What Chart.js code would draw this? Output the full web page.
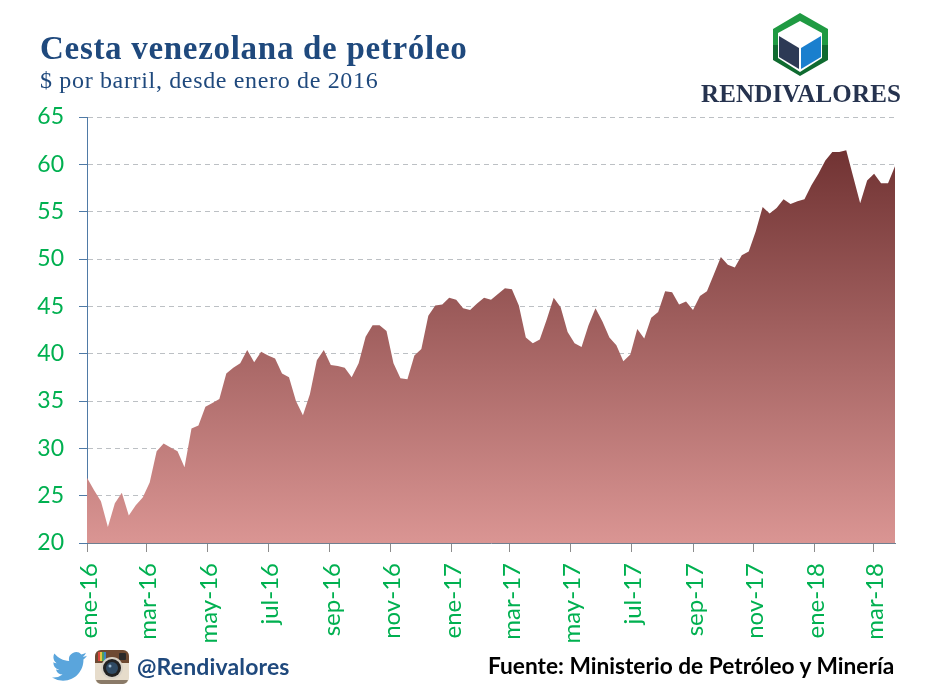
<!DOCTYPE html>
<html lang="es">
<head>
<meta charset="utf-8">
<title>Cesta venezolana de petróleo</title>
<script src="https://cdn.jsdelivr.net/npm/chart.js@4"></script>
<style>
  html, body { margin: 0; padding: 0; background: #fff; }
  #pagina { position: relative; width: 941px; height: 690px; overflow: hidden; }
  #grafico { position: absolute; left: 0; top: 0; }
  .texto { position: absolute; white-space: nowrap; line-height: 1; }
  #titulo { left: 40px; top: 30px; font: bold 33px "Liberation Serif", serif; letter-spacing: 0.7px; color: #1f497d; }
  #subtitulo { left: 40px; top: 67px; font: 24px "Liberation Serif", serif; letter-spacing: 0.66px; color: #1f497d; }
  #marca { left: 701px; top: 80px; font: bold 25px "Liberation Serif", serif; letter-spacing: 0.15px; color: #26334f; }
  #usuario { left: 137px; top: 652px; font: bold 23px "Lato", sans-serif; letter-spacing: 0.15px; color: #1f497d; }
  #fuente { left: 488px; top: 652px; font: bold 22.7px "Lato", sans-serif; color: #000; }
  svg { position: absolute; }
</style>
</head>
<body>
<div id="pagina">
  <canvas id="grafico" width="941" height="690"></canvas>
  <div class="texto" id="titulo">Cesta venezolana de petróleo</div>
  <div class="texto" id="subtitulo">$ por barril, desde enero de 2016</div>
  <div class="texto" id="marca">RENDIVALORES</div>
  <div class="texto" id="usuario">@Rendivalores</div>
  <div class="texto" id="fuente">Fuente: Ministerio de Petróleo y Minería</div>

  <!-- logo -->
  <svg style="left:770px;top:10px" width="62" height="70" viewBox="770 10 62 70">
    <polygon points="800,13 828,29 828,45 773,45 773,29" fill="#1f9a42"/>
    <polygon points="773,45 828,45 828,60 800,76 773,60" fill="#0f6b30"/>
    <polygon points="800,21 822,33 822,58 800,72 778,58 778,33" fill="#fff"/>
    <polygon points="779,36 799,48 799,69 779,57" fill="#2d3a55"/>
    <polygon points="801,48 821,36 821,57 801,69" fill="#1a7fce"/>
  </svg>

  <!-- twitter -->
  <svg style="left:52px;top:651px" width="35" height="31" viewBox="0 2 24 20">
    <path fill="#5aa5dc" d="M23.953 4.57a10 10 0 01-2.825.775 4.958 4.958 0 002.163-2.723c-.951.555-2.005.959-3.127 1.184a4.92 4.92 0 00-8.384 4.482C7.69 8.095 4.067 6.13 1.64 3.162a4.822 4.822 0 00-.666 2.475c0 1.71.87 3.213 2.188 4.096a4.904 4.904 0 01-2.228-.616v.06a4.923 4.923 0 003.946 4.827 4.996 4.996 0 01-2.212.085 4.936 4.936 0 004.604 3.417 9.867 9.867 0 01-6.102 2.105c-.39 0-.779-.023-1.17-.067a13.995 13.995 0 007.557 2.209c9.053 0 13.998-7.496 13.998-13.985 0-.21 0-.42-.015-.63A9.935 9.935 0 0024 4.59z"/>
  </svg>

  <!-- instagram -->
  <svg style="left:95px;top:650px" width="34" height="34" viewBox="0 0 34 34">
    <rect x="0" y="0" width="34" height="34" rx="6" fill="#e6dccb"/>
    <path d="M0 13V6a6 6 0 0 1 6-6h22a6 6 0 0 1 6 6v7z" fill="#6e4a32"/>
    <rect x="3" y="2" width="2" height="9" fill="#d9443a"/>
    <rect x="5" y="2" width="2" height="9" fill="#e9c23f"/>
    <rect x="7" y="2" width="2" height="9" fill="#4fa35a"/>
    <rect x="9" y="2" width="2" height="9" fill="#3f86c4"/>
    <rect x="24" y="3" width="7" height="7" rx="1" fill="#2a2a2a"/>
    <circle cx="17" cy="18" r="11" fill="#d8d2c6"/>
    <circle cx="17" cy="18" r="9" fill="#222"/>
    <circle cx="17" cy="18" r="6" fill="#2f4a63"/>
    <circle cx="15" cy="16" r="1.5" fill="#9ab8d0"/>
    <path d="M1 30a6 6 0 0 0 5 4h22a6 6 0 0 0 5-4z" fill="#8a7a68"/>
  </svg>
</div>

<script>
// Datos semanales (desde enero de 2016)
const valores = [
  26.9, 25.6, 24.4, 21.7, 24.2, 25.3, 22.9, 24.0, 24.8, 26.4,
  29.7, 30.5, 30.1, 29.7, 28.0, 32.1, 32.4, 34.4, 34.8, 35.2,
  37.9, 38.5, 39.0, 40.4, 39.1, 40.2, 39.8, 39.5, 37.9, 37.5,
  35.0, 33.5, 35.7, 39.3, 40.4, 38.8, 38.7, 38.5, 37.5, 39.0,
  41.8, 43.0, 43.0, 42.4, 39.0, 37.4, 37.3, 39.8, 40.5, 44.0,
  45.1, 45.2, 45.9, 45.7, 44.8, 44.6, 45.3, 45.9, 45.7, 46.3,
  46.9, 46.8, 45.1, 41.7, 41.1, 41.5, 43.6, 45.9, 44.9, 42.3,
  41.1, 40.7, 43.0, 44.8, 43.4, 41.7, 40.9, 39.2, 39.9, 42.6,
  41.6, 43.8, 44.4, 46.6, 46.5, 45.2, 45.5, 44.6, 46.1, 46.6,
  48.4, 50.2, 49.4, 49.1, 50.4, 50.8, 52.9, 55.5, 54.8, 55.4,
  56.3, 55.8, 56.1, 56.3, 57.8, 59.0, 60.4, 61.3, 61.3, 61.5,
  58.7, 55.9, 58.3, 59.0, 58.0, 58.0, 59.8,
];
const diasPorSemana = 7;

// Etiquetas del eje x y su dia contado desde el 1 de enero de 2016
const etiquetasMes = ["ene-16", "mar-16", "may-16", "jul-16", "sep-16", "nov-16", "ene-17", "mar-17", "may-17", "jul-17", "sep-17", "nov-17", "ene-18", "mar-18"];
const diasMes = [0, 60, 121, 182, 244, 305, 366, 425, 486, 547, 609, 670, 731, 790];

const ticksY = [20, 25, 30, 35, 40, 45, 50, 55, 60, 65];

const puntos = valores.map((v, i) => ({ x: i * diasPorSemana, y: v }));

function degradado(context) {
  const chart = context.chart;
  if (!chart.chartArea) return "#a56262";
  const yArriba = chart.scales.y.getPixelForValue(Math.max(...valores));
  const g = chart.ctx.createLinearGradient(0, yArriba, 0, chart.chartArea.bottom);
  g.addColorStop(0, "#713333");
  g.addColorStop(1, "#da9593");
  return g;
}

const ctx = document.getElementById("grafico");
const myChart = new Chart(ctx, {
  type: "line",
  data: {
    datasets: [
      {
        data: puntos,
        backgroundColor: degradado,
        borderWidth: 0,
        pointRadius: 0,
        tension: 0,
        fill: "start",
      },
    ],
  },
  options: {
    responsive: false,
    animation: false,
    layout: { padding: { top: 117, right: 46, left: 0, bottom: 0 } },
    plugins: { legend: { display: false }, tooltip: { enabled: false } },
    scales: {
      x: {
        type: "linear",
        min: 0,
        max: (valores.length - 1) * diasPorSemana,
        afterFit: (scale) => { scale.height = 147; },
        afterBuildTicks: (scale) => { scale.ticks = diasMes.map((d) => ({ value: d })); },
        border: { color: "#6f7f90", width: 1 },
        grid: { drawOnChartArea: false, color: "#8c8c8c", tickLength: 9 },
        ticks: {
          autoSkip: false,
          minRotation: 90,
          maxRotation: 90,
          padding: 11,
          labelOffset: 2,
          color: "#00b050",
          font: { family: "Lato", size: 24 },
          callback: (value) => etiquetasMes[diasMes.indexOf(value)],
        },
      },
      y: {
        min: 20,
        max: 65,
        afterFit: (scale) => { scale.width = 87; },
        afterBuildTicks: (scale) => { scale.ticks = ticksY.map((v) => ({ value: v })); },
        border: { color: "#4f7aa6", width: 1, dash: [5, 4] },
        grid: { color: "#bcc0c4", tickColor: "#4f7aa6", tickLength: 8, tickBorderDash: [] },
        ticks: {
          padding: 15,
          color: "#00b050",
          font: { family: "Lato", size: 23 },
        },
      },
    },
  },
});
</script>
</body>
</html>
